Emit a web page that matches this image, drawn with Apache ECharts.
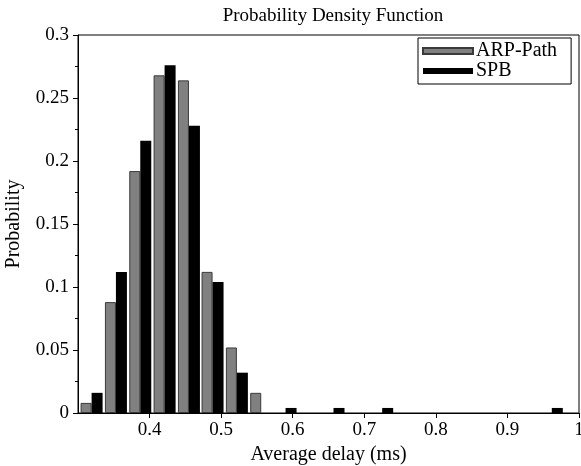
<!DOCTYPE html>
<html>
<head>
<meta charset="utf-8">
<script src="https://cdn.jsdelivr.net/npm/echarts@6/dist/echarts.min.js"></script>
<style>
html,body{margin:0;padding:0;background:#fff;}
#chart{width:581px;height:466px;}
</style>
</head>
<body>
<div id="chart"></div>
<script>
// Histogram bin centres (Average delay, ms)
const binCenters = [0.319, 0.353, 0.387, 0.421, 0.455, 0.488, 0.522, 0.556, 0.590, 0.624,
                    0.657, 0.691, 0.725, 0.759, 0.792, 0.826, 0.860, 0.894, 0.928, 0.962];
// Probabilities per bin
const arpPath = [0.008, 0.088, 0.192, 0.268, 0.264, 0.112, 0.052, 0.016, 0, 0,
                 0, 0, 0, 0, 0, 0, 0, 0, 0, 0];
const spb = [0.016, 0.112, 0.216, 0.276, 0.228, 0.104, 0.032, 0, 0.004, 0,
             0.004, 0, 0.004, 0, 0, 0, 0, 0, 0, 0.004];
const seriesNames = ['ARP-Path', 'SPB'];
const titleText = 'Probability Density Function';
const xName = 'Average delay (ms)';
const yName = 'Probability';

const FONT = 'Liberation Serif';
function pairs(vals) {
  const out = [];
  vals.forEach((v, i) => { if (v > 0) out.push([binCenters[i], v]); });
  return out;
}

const chart = echarts.init(document.getElementById('chart'), null, {renderer: 'canvas'});
chart.setOption({
  animation: false,
  backgroundColor: '#fff',
  title: {
    text: titleText,
    left: 328, textAlign: 'center', top: 2,
    textStyle: {fontFamily: FONT, fontWeight: 'normal', fontSize: 19, color: '#000'}
  },
  grid: {left: 78, right: 2, top: 35, bottom: 53, outerBoundsMode: 'none', containLabel: false,
         show: true, borderColor: '#000', borderWidth: 1, backgroundColor: 'transparent'},
  legend: {
    orient: 'vertical',
    left: 418, top: 38,
    padding: [3, 14, 3, 4],
    itemGap: 0,
    itemWidth: 50, itemHeight: 6,
    borderColor: '#000', borderWidth: 1,
    backgroundColor: '#fff',
    icon: 'rect',
    textStyle: {fontFamily: FONT, fontSize: 20, color: '#000', lineHeight: 16, padding: [0, 0, 0, -2]},
    data: seriesNames
  },
  xAxis: {
    type: 'value',
    min: 0.3, max: 1.0, interval: 0.1,
    name: xName, nameLocation: 'middle', nameGap: 29,
    nameTextStyle: {fontFamily: FONT, fontSize: 20, color: '#000'},
    axisLine: {show: true, lineStyle: {color: '#000', width: 1}},
    axisTick: {show: true, length: 5, lineStyle: {color: '#000'}},
    axisLabel: {showMinLabel: false, fontFamily: FONT, fontSize: 19, color: '#000', margin: 8},
    splitLine: {show: false}
  },
  yAxis: {
    type: 'value',
    min: 0, max: 0.3, interval: 0.05,
    name: yName, nameLocation: 'middle', nameGap: 54,
    nameTextStyle: {fontFamily: FONT, fontSize: 20, color: '#000'},
    axisLine: {show: true, lineStyle: {color: '#000', width: 1}},
    axisTick: {show: true, length: 5, lineStyle: {color: '#000'}},
    minorTick: {show: true, splitNumber: 2, length: 3, lineStyle: {color: '#000'}},
    axisLabel: {fontFamily: FONT, fontSize: 19, color: '#000', margin: 9},
    splitLine: {show: false}
  },
  series: [{
    name: seriesNames[0],
    type: 'bar',
    barWidth: 11,
    barGap: '0%',
    itemStyle: {color: '#808080', borderColor: '#3a3a3a', borderWidth: 1},
    data: pairs(arpPath)
  }, {
    name: seriesNames[1],
    type: 'bar',
    barWidth: 11,
    barGap: '0%',
    itemStyle: {color: '#000'},
    data: pairs(spb)
  }]
});
</script>
</body>
</html>
